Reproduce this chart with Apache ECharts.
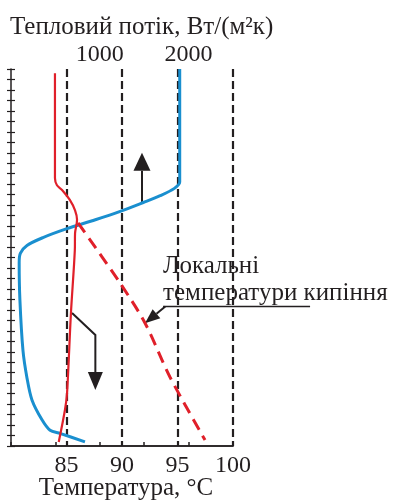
<!DOCTYPE html>
<html><head><meta charset="utf-8">
<script src="https://cdn.jsdelivr.net/npm/echarts@6/dist/echarts.min.js"></script>
<style>html,body{margin:0;padding:0;background:#fff}#c{width:393px;height:502px}</style>
</head><body><div id="c"></div>
<script>
// ---- data ----
const tempLabels = [85, 90, 95, 100];
const fluxLabels = [1000, 2000];
// heat flux profile (top axis, W/(m2K)) vs height
const fluxValues  = [1900, 1900, 1840, 1680, 1490, 1230, 950, 630, 360, 180, 105, 92, 100, 135, 180, 236, 349, 440, 552, 833];
const fluxHeights = [36, 25.2, 24.6, 23.9, 23.25, 22.4, 21.6, 20.75, 19.9, 19.15, 18.4, 17.5, 14, 9.1, 6.5, 4.4, 2.5, 1.5, 1.2, 0.4];
// water temperature (bottom axis, °C) vs height
const tempValues  = [83.96, 83.96, 84.14, 84.6, 85.3, 85.77, 85.95, 85.77, 85.75, 85.4, 85.05, 84.86, 84.3];
const tempHeights = [35.6, 25.6, 24.9, 24.45, 23.5, 22.5, 21.6, 20.3, 18.7, 12.7, 5.06, 3.44, 0.38];
// local boiling temperature (dashed) vs height
const boilValues  = [86.04, 89.82, 92.07, 94.32, 97.48];
const boilHeights = [21.3, 15.57, 11.75, 6.59, 0.57];

const pairs = (xs, ys) => xs.map((v, i) => [v, ys[i]]);
const INK = '#231f20';
const FONT = 'Liberation Serif';

const chart = echarts.init(document.getElementById('c'), null, {renderer: 'canvas'});
chart.setOption({
  animation: false,
  backgroundColor: '#fff',
  title: {
    text: 'Тепловий потік, Вт/(м²к)', left: 5, top: 10,
    textStyle: {fontFamily: FONT, fontSize: 25, fontWeight: 'normal', color: INK}
  },
  grid: {left: 11, right: 160, top: 69, bottom: 56, containLabel: false, outerBoundsMode: 'none'},
  xAxis: [{
    type: 'value', position: 'bottom', min: 80, max: 100, interval: 5,
    axisLine: {lineStyle: {color: INK, width: 1.5}},
    axisTick: {show: false},
    axisLabel: {fontFamily: FONT, fontSize: 24, color: INK, margin: 8,
      formatter: v => tempLabels.includes(v) ? String(v) : ''},
    splitLine: {show: true, showMinLine: false, showMaxLine: true,
      lineStyle: {type: [8, 4], width: 2.2, color: INK}},
    name: 'Температура, °C', nameLocation: 'middle', nameGap: 30, nameMoveOverlap: false,
    nameTextStyle: {fontFamily: FONT, fontSize: 25, color: INK, padding: [0, 0, 0, 8]}
  }, {
    type: 'value', position: 'top', min: 0, max: 2500, interval: 500,
    axisLine: {lineStyle: {color: INK, width: 1.5}},
    axisTick: {show: true, inside: false, length: 4, lineStyle: {color: INK, width: 1.5}},
    axisLabel: {fontFamily: FONT, fontSize: 24, color: INK, margin: 2,
      formatter: v => fluxLabels.includes(v) ? String(v) : ''},
    splitLine: {show: false}
  }],
  yAxis: [{
    type: 'value', min: 0, max: 36, interval: 1, position: 'left',
    axisLine: {show: true, lineStyle: {color: INK, width: 1.5}},
    axisTick: {show: true, inside: false, length: 4, lineStyle: {color: INK, width: 1.2}},
    axisLabel: {show: false}, splitLine: {show: false}
  }, {
    type: 'value', min: 0, max: 36, interval: 1, position: 'left',
    axisLine: {show: false},
    axisTick: {show: true, inside: true, length: 4, lineStyle: {color: INK, width: 1.2}},
    axisLabel: {show: false}, splitLine: {show: false}
  }],
  series: [{
    type: 'line', name: 'flux', xAxisIndex: 1, yAxisIndex: 0,
    data: pairs(fluxValues, fluxHeights), smooth: 0.3, showSymbol: false,
    lineStyle: {color: '#1a8fcf', width: 3}
  }, {
    type: 'line', name: 'temp', xAxisIndex: 0, yAxisIndex: 0,
    data: pairs(tempValues, tempHeights), smooth: 0.3, showSymbol: false,
    lineStyle: {color: '#e0202a', width: 2.2}
  }, {
    type: 'line', name: 'boil', xAxisIndex: 0, yAxisIndex: 0,
    data: pairs(boilValues, boilHeights), smooth: 0.3, showSymbol: false,
    lineStyle: {color: '#e0202a', width: 3, type: [12, 7]}
  }]
});

// ---- annotations (arrows positioned in data coordinates) ----
const px = p => chart.convertToPixel({xAxisIndex: 0, yAxisIndex: 0}, p);
function arrow(pts, tip, len, hw) {
  const P = pts.map(px), T = px(tip);
  const last = P[P.length - 1];
  const dx = T[0] - last[0], dy = T[1] - last[1];
  const d = Math.hypot(dx, dy) || 1, ux = dx / d, uy = dy / d;
  const bx = T[0] - ux * len, by = T[1] - uy * len;
  const shaft = P.concat([[bx, by]]);
  return [{
    type: 'polyline', shape: {points: shaft}, silent: true,
    style: {stroke: INK, lineWidth: 2, fill: null}
  }, {
    type: 'polygon', silent: true,
    shape: {points: [T, [bx - uy * hw, by + ux * hw], [bx + uy * hw, by - ux * hw]]},
    style: {fill: INK, stroke: null}
  }];
}
const g = [].concat(
  arrow([[85.5, 12.7], [87.6, 10.6]], [87.6, 5.35], 18, 7.5),
  arrow([[91.8, 23.2]], [91.8, 28.0], 18, 8.5),
  arrow([[93.9, 13.33]], [92.07, 11.71], 15, 6)
);
const u0 = px([93.7, 13.33]);
g.push({type: 'line', silent: true, shape: {x1: u0[0], y1: u0[1], x2: u0[0] + 147, y2: u0[1]},
  style: {stroke: INK, lineWidth: 1.5}});
g.push({type: 'text', silent: true, x: u0[0], y: u0[1] - 53,
  style: {text: 'Локальні\nтемператури кипіння', font: '25px "Liberation Serif"',
    fill: INK, lineHeight: 27}});
chart.setOption({graphic: g});
</script></body></html>
